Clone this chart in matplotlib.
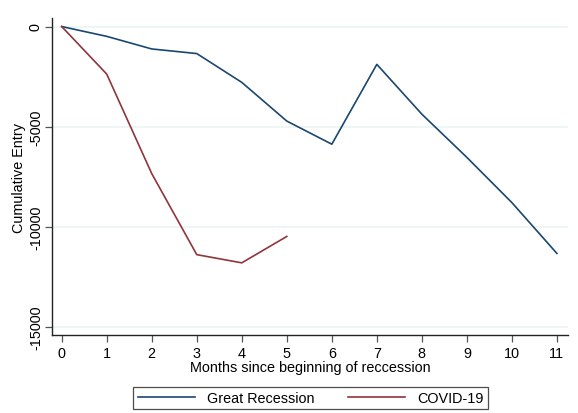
import matplotlib.pyplot as plt

plt.rcParams['font.family'] = ['Liberation Sans', 'DejaVu Sans']

months = list(range(12))
great_recession = [0, -490, -1120, -1350, -2790, -4725, -5880, -1890, -4380, -6540, -8800, -11340]
covid_months = list(range(6))
covid = [0, -2375, -7350, -11400, -11810, -10490]

y_ticks = [0, -5000, -10000, -15000]

fig = plt.figure(figsize=(5.78, 4.14), dpi=100)
ax = fig.add_axes([0.090, 0.188, 0.893, 0.766])

ax.plot(months, great_recession, color='#1a476f', lw=1.2, label='Great Recession')
ax.plot(covid_months, covid, color='#90353b', lw=1.2, label='COVID-19')

ax.set_xlim(-0.215, 11.25)
ax.set_ylim(-15425, 425)
ax.set_xticks(months)
ax.set_yticks(y_ticks)
ax.set_yticklabels([str(v) for v in y_ticks], rotation=90, va='center')
ax.grid(axis='y', color='#eaf2f3', lw=1.1)
ax.set_axisbelow(True)

for s in ['top', 'right']:
    ax.spines[s].set_visible(False)
for s in ['left', 'bottom']:
    ax.spines[s].set_color('#222222')
    ax.spines[s].set_linewidth(1.0)
ax.tick_params(direction='out', length=5, width=0.9, color='#555555', labelsize=10.4)
ax.tick_params(axis='x', pad=2.5)
ax.tick_params(axis='y', pad=1.5)

ax.set_xlabel('Months since beginning of reccession', fontsize=10.4, labelpad=0)
ax.set_ylabel('Cumulative Entry', fontsize=10.4, labelpad=2)

leg = fig.legend(loc='center', bbox_to_anchor=(0.537, 0.036), ncol=2, frameon=True,
                 fancybox=False, edgecolor='#222222', fontsize=10.4, handlelength=4.0,
                 columnspacing=2.3, borderpad=0.3)
leg.get_frame().set_linewidth(0.9)

fig.savefig('out.png', dpi=100)
